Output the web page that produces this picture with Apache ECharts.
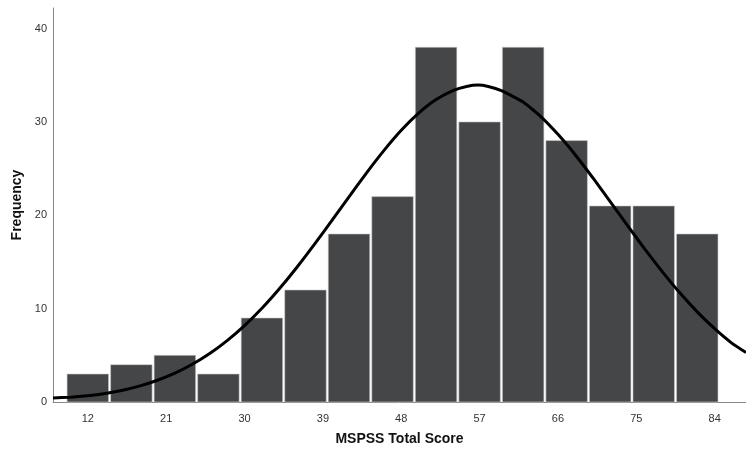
<!DOCTYPE html>
<html>
<head>
<meta charset="utf-8">
<script src="https://cdn.jsdelivr.net/npm/echarts@6/dist/echarts.min.js"></script>
<style>html,body{margin:0;padding:0;background:#fff}#c{width:746px;height:453px}</style>
</head>
<body>
<div id="c"></div>
<script>
// Histogram bins (lower edge, upper edge) and frequencies
var binStarts = [9.5,14.5,19.5,24.5,29.5,34.5,39.5,44.5,49.5,54.5,59.5,64.5,69.5,74.5,79.5];
var binWidth = 5;
var frequencies = [3,4,5,3,9,12,18,22,38,30,38,28,21,21,18];
// Normal curve
var curveX = [8,10,12,14,16,18,20,22,24,26,28,30,32,34,36,38,40,42,44,46,48,50,52,54,55.5,56.8,58,59.5,62,64,66,68,70,72,74,76,78,80,82,84,86,87.6];
var curveY = [0.42,0.52,0.66,0.9,1.26,1.73,2.33,3.09,4.04,5.19,6.58,8.19,10.04,12.13,14.41,16.85,19.4,21.98,24.52,26.92,29.1,30.94,32.39,33.38,33.8,33.95,33.8,33.35,32.13,30.6,28.67,26.46,24.02,21.47,18.89,16.35,13.94,11.69,9.65,7.85,6.28,5.3];
var xTicks = [12,21,30,39,48,57,66,75,84];
var yTicks = [0,10,20,30,40];

var barData = binStarts.map(function(s,i){return [s, s+binWidth, frequencies[i]];});
var lineData = curveX.map(function(x,i){return [x, curveY[i]];});

var chart = echarts.init(document.getElementById('c'));
var font = 'Liberation Sans, Arial, sans-serif';
chart.setOption({
  animation:false,
  grid:{left:53, right:0, top:8, bottom:51, outerBoundsMode:'none', containLabel:false},
  xAxis:{
    type:'value', min:8, max:87.6,
    name:'MSPSS Total Score', nameLocation:'middle', nameGap:30,
    nameTextStyle:{fontFamily:font, fontWeight:'bold', fontSize:14, color:'#111'},
    axisLine:{show:true, onZero:false, lineStyle:{color:'#888', width:1}},
    axisTick:{show:false},
    splitLine:{show:false},
    axisLabel:{customValues:xTicks, fontFamily:font, fontSize:11, color:'#333', margin:11}
  },
  yAxis:{
    type:'value', min:0, max:42.2,
    name:'Frequency', nameLocation:'middle', nameGap:29, nameRotate:90,
    nameTextStyle:{fontFamily:font, fontWeight:'bold', fontSize:14, color:'#111'},
    axisLine:{show:true, lineStyle:{color:'#888', width:1}},
    axisTick:{show:false},
    splitLine:{show:false},
    axisLabel:{customValues:yTicks, fontFamily:font, fontSize:11, color:'#333', margin:6}
  },
  series:[
    {
      type:'custom',
      data:barData,
      renderItem:function(params, api){
        var p0 = api.coord([api.value(0), api.value(2)]);
        var p1 = api.coord([api.value(1), 0]);
        return {
          type:'rect',
          shape:{x:p0[0]+1, y:p0[1], width:p1[0]-p0[0]-2, height:p1[1]-p0[1]},
          style:{fill:'#454648', stroke:'#cfcfcf', lineWidth:0.6}
        };
      },
      encode:{x:[0,1], y:2}
    },
    {
      type:'line',
      data:lineData,
      smooth:0.15,
      showSymbol:false,
      lineStyle:{color:'#000', width:3},
      z:5
    }
  ]
});
</script>
</body>
</html>
